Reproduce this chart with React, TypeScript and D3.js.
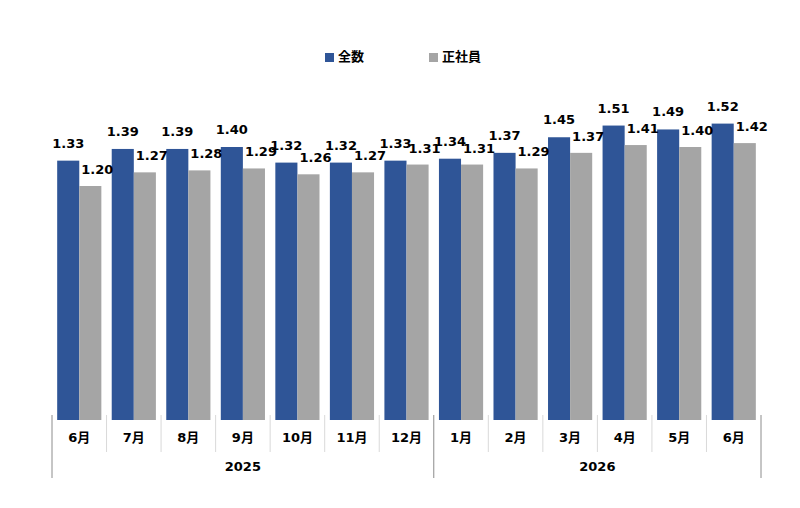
import React from 'react';
import * as d3 from 'd3';

const months = ['6月', '7月', '8月', '9月', '10月', '11月', '12月', '1月', '2月', '3月', '4月', '5月', '6月'];
const years = [
  { label: '2025', count: 7 },
  { label: '2026', count: 6 },
];
const seriesNames = ['全数', '正社員'];
const totalValues = [1.33, 1.39, 1.39, 1.40, 1.32, 1.32, 1.33, 1.34, 1.37, 1.45, 1.51, 1.49, 1.52];
const regularValues = [1.20, 1.27, 1.28, 1.29, 1.26, 1.27, 1.31, 1.31, 1.29, 1.37, 1.41, 1.40, 1.42];

const colors = ['#2F5597', '#A5A5A5'];
const W = 800;
const H = 508;
const labelFont = '"DejaVu Sans", "Noto Sans CJK JP", sans-serif';

const App: React.FC = () => {
  const idx = months.map((_, i) => i);

  const x0 = d3.scaleBand<number>()
    .domain(idx)
    .range([52, 761])
    .paddingInner(0.19)
    .paddingOuter(0.095);

  const x1 = d3.scaleBand<number>()
    .domain([0, 1])
    .range([0, x0.bandwidth()]);

  const y = d3.scaleLinear()
    .domain([0, 1.52])
    .range([420, 420 - 1.52 * 195]);

  const series = [totalValues, regularValues];
  const step = x0.step();
  const left = 52;

  // year group boundaries (in category index)
  let acc = 0;
  const yearGroups = years.map(g => {
    const start = acc;
    acc += g.count;
    return { ...g, start, end: acc };
  });

  const edgeX = (i: number) => left + i * step;

  return (
    <div style={{ position: 'absolute', left: 0, top: 0 }}>
      <svg width={W} height={H} style={{ display: 'block', background: '#fff' }}>
        {/* legend */}
        <g fontFamily='"Noto Sans CJK JP", sans-serif' fontWeight="bold" fontSize={13}>
          {seriesNames.map((name, s) => {
            const lx = s === 0 ? 325 : 429;
            return (
              <g key={name}>
                <rect x={lx} y={53} width={9} height={9} fill={colors[s]} />
                <text x={lx + 13} y={61} fill="#000">{name}</text>
              </g>
            );
          })}
        </g>

        {/* bars */}
        {idx.map(i => (
          <g key={i} transform={`translate(${x0(i)},0)`}>
            {series.map((vals, s) => (
              <rect
                key={s}
                x={x1(s)}
                y={y(vals[i])}
                width={x1.bandwidth()}
                height={y(0) - y(vals[i])}
                fill={colors[s]}
              />
            ))}
          </g>
        ))}

        {/* value labels */}
        <g fontFamily={labelFont} fontWeight="bold" fontSize={13} fill="#000">
          {idx.map(i => (
            <g key={i}>
              <text
                x={(x0(i) ?? 0) + (x1(0) ?? 0) + x1.bandwidth() / 2}
                y={y(totalValues[i]) - 13}
                textAnchor="middle"
              >
                {totalValues[i].toFixed(2)}
              </text>
              <text
                x={(x0(i) ?? 0) + (x1(1) ?? 0) + x1.bandwidth() / 2 + 7}
                y={y(regularValues[i]) - 12}
                textAnchor="middle"
              >
                {regularValues[i].toFixed(2)}
              </text>
            </g>
          ))}
        </g>

        {/* month separators */}
        {d3.range(1, months.length).map(i => {
          const isYearEdge = yearGroups.some(g => g.start === i);
          if (isYearEdge) return null;
          return (
            <line key={i} x1={edgeX(i)} x2={edgeX(i)} y1={415} y2={452} stroke="#D9D9D9" strokeWidth={1} />
          );
        })}

        {/* year separators */}
        {[0, ...yearGroups.map(g => g.end)].map(i => (
          <line key={i} x1={edgeX(i)} x2={edgeX(i)} y1={415} y2={478} stroke="#8C8C8C" strokeWidth={1} />
        ))}

        {/* month labels */}
        <g fontFamily={labelFont} fontWeight="bold" fontSize={13} fill="#000">
          {months.map((m, i) => (
            <text key={i} x={(x0(i) ?? 0) + x0.bandwidth() / 2} y={442} textAnchor="middle">{m}</text>
          ))}
          {yearGroups.map(g => (
            <text key={g.label} x={(edgeX(g.start) + edgeX(g.end)) / 2} y={471} textAnchor="middle">{g.label}</text>
          ))}
        </g>
      </svg>
    </div>
  );
};

export default App;
